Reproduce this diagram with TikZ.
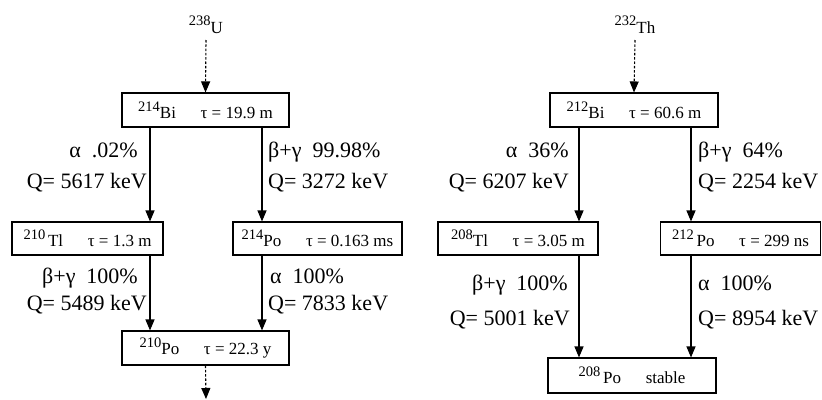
\documentclass[tikz,border=0pt]{standalone}
\usepackage{fontspec}
\setmainfont{Liberation Serif}
\usetikzlibrary{arrows.meta}
\newcommand\isotope[2]{\raisebox{0.42em}{\fontsize{14.5}{15}\selectfont #1}#2}
\newcommand\gap{\hspace{1.45em}}
\begin{document}
\begin{tikzpicture}[x=1pt,y=-1pt,
  box/.style={draw,line width=1.1pt,rectangle,inner sep=0pt,minimum height=34pt,font=\fontsize{17}{20}\selectfont},
  lbl/.style={inner sep=0pt,font=\fontsize{22}{26}\selectfont},
  src/.style={inner sep=0pt,font=\fontsize{17}{20}\selectfont},
  arr/.style={line width=1.1pt,-{Triangle[length=11pt,width=9pt]}},
  darr/.style={line width=1.1pt,dash pattern=on 2.5pt off 1.8pt,-{Triangle[length=11pt,width=9pt]}}]
\useasboundingbox (0,0) rectangle (822,399);
% ---------- left chain ----------
\node[src,anchor=base] (u238) at (206,33) {\isotope{238}{U}};
\node[box,minimum width=167pt] (bi214) at (205.5,110) {\isotope{214}{Bi}\gap τ = 19.9 m};
\node[box,minimum width=151pt,minimum height=33pt] (tl210) at (87.5,238.5) {\isotope{210}{\,Tl}\gap τ = 1.3 m};
\node[box,minimum width=169pt,minimum height=33pt] (po214) at (317.5,238.5) {\isotope{214}{Po}\gap τ = 0.163 ms};
\node[box,minimum width=167pt] (po210) at (205.5,348) {\isotope{210}{Po}\gap τ = 22.3 y};
\coordinate (cL1) at (150,0);
\coordinate (cL2) at (262,0);
\coordinate (endL) at (206,399);
\coordinate (topL) at (206,40);
\draw[darr] (topL) -- (bi214.north);
\draw[arr] (bi214.south -| cL1) -- (tl210.north -| cL1);
\draw[arr] (bi214.south -| cL2) -- (po214.north -| cL2);
\draw[arr] (tl210.south -| cL1) -- (po210.north -| cL1);
\draw[arr] (po214.south -| cL2) -- (po210.north -| cL2);
\draw[darr] (po210.south) -- (endL);
\node[lbl,anchor=base east] (l1) at (138,157) {α\ \ .02\%};
\node[lbl,anchor=base east] (l2) at (147,188) {Q= 5617 keV};
\node[lbl,anchor=base west] (l3) at (268,157) {β+γ\ \ 99.98\%};
\node[lbl,anchor=base west] (l4) at (268,188) {Q= 3272 keV};
\node[lbl,anchor=base east] (l5) at (138,283) {β+γ\ \ 100\%};
\node[lbl,anchor=base east] (l6) at (147,310) {Q= 5489 keV};
\node[lbl,anchor=base west] (l7) at (270,283) {α\ \ 100\%};
\node[lbl,anchor=base west] (l8) at (268,310) {Q= 7833 keV};
% ---------- right chain ----------
\node[src,anchor=base] (th232) at (635,33) {\isotope{232}{Th}};
\node[box,minimum width=168pt] (bi212) at (634,110) {\isotope{212}{Bi}\gap τ = 60.6 m};
\node[box,minimum width=160pt,minimum height=33pt] (tl208) at (518,238.5) {\isotope{208}{Tl}\gap τ = 3.05 m};
\node[box,minimum width=160pt,minimum height=33pt] (po212) at (740.5,238.5) {\isotope{212}{\,Po}\gap τ = 299 ns};
\node[box,minimum width=168pt,minimum height=35pt] (po208) at (632,375.5) {\isotope{208}{\,Po}\gap stable};
\coordinate (cR1) at (579,0);
\coordinate (cR2) at (691,0);
\coordinate (topR) at (635,40);
\draw[darr] (topR) -- (bi212.north);
\draw[arr] (bi212.south -| cR1) -- (tl208.north -| cR1);
\draw[arr] (bi212.south -| cR2) -- (po212.north -| cR2);
\draw[arr] (tl208.south -| cR1) -- (po208.north -| cR1);
\draw[arr] (po212.south -| cR2) -- (po208.north -| cR2);
\node[lbl,anchor=base east] (r1) at (569,157) {α\ \ 36\%};
\node[lbl,anchor=base east] (r2) at (569,188) {Q= 6207 keV};
\node[lbl,anchor=base west] (r3) at (698,157) {β+γ\ \ 64\%};
\node[lbl,anchor=base west] (r4) at (698,188) {Q= 2254 keV};
\node[lbl,anchor=base east] (r5) at (568,290) {β+γ\ \ 100\%};
\node[lbl,anchor=base east] (r6) at (570,325) {Q= 5001 keV};
\node[lbl,anchor=base west] (r7) at (698,290) {α\ \ 100\%};
\node[lbl,anchor=base west] (r8) at (698,325) {Q= 8954 keV};
\end{tikzpicture}
\end{document}
